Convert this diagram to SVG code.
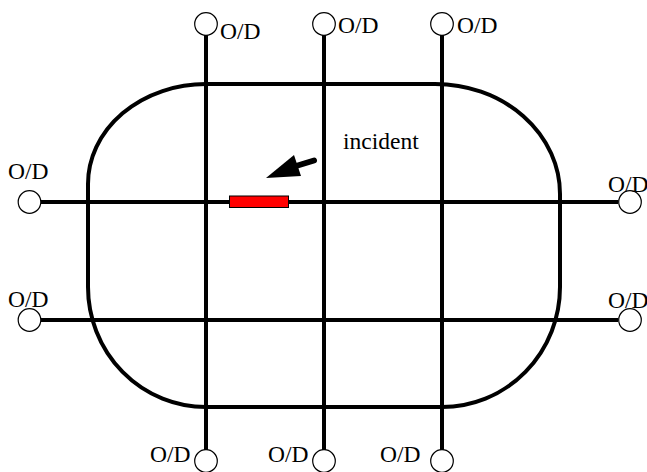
<svg xmlns="http://www.w3.org/2000/svg" width="647" height="472" viewBox="0 0 647 472">
<style>
.ln{stroke:#000;stroke-width:4;fill:none}
.od{fill:#fff;stroke:#000;stroke-width:1.2}
.t{font-family:"Liberation Serif","Times New Roman",serif;font-size:23.5px;fill:#000}
</style>
<rect width="647" height="472" fill="#fff"/>
<g id="connectors">
<path id="ring" class="ln" d="M 206 84 L 435 84 A 125 110 0 0 1 560 194 L 560 287 A 118 120 0 0 1 442 407 L 206 407 A 118 120 0 0 1 88 287 L 88 184 A 118 100 0 0 1 206 84 Z"/>
<line class="ln" x1="206" y1="35" x2="206" y2="450"/>
<line class="ln" x1="324" y1="35" x2="324" y2="450"/>
<line class="ln" x1="442" y1="35" x2="442" y2="450"/>
<line class="ln" x1="41" y1="202" x2="618" y2="202"/>
<line class="ln" x1="41" y1="320" x2="618" y2="320"/>
</g>
<g id="od-top-1"><circle class="od" cx="206" cy="24" r="11.3"/><text class="t" x="220" y="39">O/D</text></g>
<g id="od-top-2"><circle class="od" cx="324" cy="24" r="11.3"/><text class="t" x="338" y="33">O/D</text></g>
<g id="od-top-3"><circle class="od" cx="442" cy="24" r="11.3"/><text class="t" x="457" y="33">O/D</text></g>
<g id="od-left-1"><circle class="od" cx="29.5" cy="202" r="11.3"/><text class="t" x="8" y="179">O/D</text></g>
<g id="od-left-2"><circle class="od" cx="29.5" cy="320" r="11.3"/><text class="t" x="8" y="307">O/D</text></g>
<g id="od-right-1"><circle class="od" cx="630" cy="202" r="11.3"/><text class="t" x="608" y="192">O/D</text></g>
<g id="od-right-2"><circle class="od" cx="630" cy="320" r="11.3"/><text class="t" x="608" y="308">O/D</text></g>
<g id="od-bottom-1"><circle class="od" cx="206" cy="461" r="11.3"/><text class="t" x="150" y="462">O/D</text></g>
<g id="od-bottom-2"><circle class="od" cx="324" cy="461" r="11.3"/><text class="t" x="268" y="462">O/D</text></g>
<g id="od-bottom-3"><circle class="od" cx="442" cy="461" r="11.3"/><text class="t" x="380" y="462">O/D</text></g>
<g id="incident">
<rect x="229.5" y="196" width="59" height="11.5" fill="#f00" stroke="#000" stroke-width="1"/>
<line x1="296" y1="166" x2="314" y2="160.5" stroke="#000" stroke-width="6" stroke-linecap="round"/>
<polygon points="266,178 294,155 301,176" fill="#000"/>
<text class="t" x="343" y="149">incident</text>
</g>
</svg>
